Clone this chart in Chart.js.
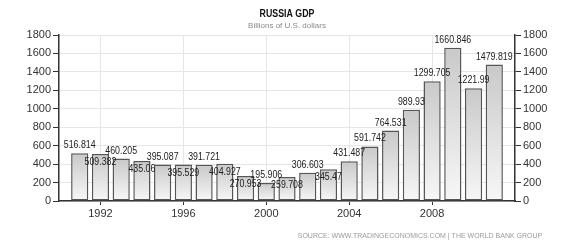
<!DOCTYPE html>
<html>
<head>
<meta charset="utf-8">
<script src="https://cdn.jsdelivr.net/npm/chart.js@4/dist/chart.umd.min.js"></script>
<style>
  html, body { margin: 0; padding: 0; background: #fff; }
  #wrap { width: 575px; height: 247px; }
</style>
</head>
<body>
<div id="wrap"><canvas id="myChart" width="575" height="247"></canvas></div>
<script>
// Russia GDP, billions of US dollars, 1990-2010
const years = [1990, 1991, 1992, 1993, 1994, 1995, 1996, 1997, 1998, 1999, 2000,
  2001, 2002, 2003, 2004, 2005, 2006, 2007, 2008, 2009, 2010];
const gdp = [516.814, 509.382, 460.205, 435.06, 395.087, 395.529, 391.721, 404.927,
  270.953, 195.906, 259.708, 306.603, 345.47, 431.487, 591.742, 764.531, 989.93,
  1299.705, 1660.846, 1221.99, 1479.819];
const yearTicks = [1992, 1996, 2000, 2004, 2008];
const valueTicks = [0, 200, 400, 600, 800, 1000, 1200, 1400, 1600, 1800];

const titleText = 'RUSSIA GDP';
const subtitleText = 'Billions of U.S. dollars';
const sourceText = 'SOURCE: WWW.TRADINGECONOMICS.COM | THE WORLD BANK GROUP';

const labelFont = '11px "Liberation Sans", Arial, sans-serif';
const axisFont = { family: '"Liberation Sans", Arial, sans-serif', size: 11 };

// each year is plotted at the end of its period
const points = years.map((yr, i) => ({ x: yr + 1, y: gdp[i] }));

function barGradient(ctx) {
  const chart = ctx.chart;
  const ys = chart.scales.y;
  if (!ys || !ctx.raw) return '#dddddd';
  const top = ys.getPixelForValue(ctx.raw.y);
  const bottom = ys.getPixelForValue(0);
  if (!isFinite(top) || !isFinite(bottom)) return '#dddddd';
  const g = chart.ctx.createLinearGradient(0, top, 0, bottom);
  g.addColorStop(0, '#c9c9c9');
  g.addColorStop(1, '#f7f7f7');
  return g;
}

// narrow text: squeeze horizontally
function narrowText(c, txt, x, y, sx) {
  c.save();
  c.translate(x, y);
  c.scale(sx, 1);
  c.fillText(txt, 0, 0);
  c.restore();
}

// titles, source line and the value labels on the bars
const textPlugin = {
  id: 'texts',
  afterDatasetsDraw(chart) {
    const c = chart.ctx;
    const meta = chart.getDatasetMeta(0);
    const sx = 0.8;
    c.save();
    c.font = labelFont;
    c.fillStyle = '#222';
    c.textAlign = 'center';
    c.textBaseline = 'middle';
    const placed = [];
    const half = 4.5;
    meta.data.forEach((bar, i) => {
      const txt = String(gdp[i]);
      const w = c.measureText(txt).width * sx;
      let y = bar.y - 8;
      const hit = placed.some(p =>
        Math.abs(p.x - bar.x) < (p.w + w) / 2 &&
        (y - half) < (p.y + half) && (y + half) > (p.y - half));
      if (hit) y = bar.y + 8;
      placed.push({ x: bar.x, y: y, w: w });
      narrowText(c, txt, bar.x, y, sx);
    });
    c.restore();
  },
  afterDraw(chart) {
    const c = chart.ctx;
    c.save();
    c.textAlign = 'center';
    c.textBaseline = 'middle';
    c.fillStyle = '#111';
    c.font = 'bold 11px "Liberation Sans", Arial, sans-serif';
    narrowText(c, titleText, 287, 14, 0.8);
    c.fillStyle = '#8a8a8a';
    c.font = '8px "Liberation Sans", Arial, sans-serif';
    c.fillText(subtitleText, 287, 26);
    c.fillStyle = '#9a9a9a';
    c.font = '7px "Liberation Sans", Arial, sans-serif';
    c.fillText(sourceText, 420, 236);
    c.restore();
  }
};

const config = {
  type: 'bar',
  data: {
    datasets: [{
      label: 'GDP',
      data: points,
      backgroundColor: barGradient,
      borderColor: '#555555',
      borderWidth: 1.5,
      borderSkipped: false,
      barPercentage: 0.83,
      categoryPercentage: 1
    }]
  },
  options: {
    responsive: false,
    animation: false,
    layout: { padding: { top: 35, left: 0, right: 0, bottom: 0 } },
    plugins: {
      legend: { display: false },
      tooltip: { enabled: false }
    },
    scales: {
      x: {
        type: 'linear',
        min: 1990,
        max: 2012,
        offset: false,
        afterBuildTicks: (axis) => { axis.ticks = yearTicks.map(v => ({ value: v })); },
        afterFit: (axis) => { axis.height = 46; },
        ticks: { color: '#333', font: axisFont, padding: 2, maxRotation: 0,
          callback: (v) => String(v) },
        grid: { color: '#e6e6e6', tickColor: '#333', tickLength: 4, lineWidth: 1, offset: false },
        border: { color: '#333', width: 1.5 }
      },
      y: {
        position: 'left',
        min: 0,
        max: 1800,
        afterBuildTicks: (axis) => { axis.ticks = valueTicks.map(v => ({ value: v })); },
        afterFit: (axis) => { axis.width = 59; },
        ticks: { color: '#333', font: axisFont, padding: 2, callback: (v) => String(v) },
        grid: { color: '#e6e6e6', tickColor: '#333', tickLength: 6 },
        border: { color: '#333', width: 1.5 }
      },
      y2: {
        position: 'right',
        min: 0,
        max: 1800,
        afterBuildTicks: (axis) => { axis.ticks = valueTicks.map(v => ({ value: v })); },
        afterFit: (axis) => { axis.width = 60; },
        ticks: { color: '#333', font: axisFont, padding: 2, callback: (v) => String(v) },
        grid: { drawOnChartArea: false, tickColor: '#333', tickLength: 6 },
        border: { color: '#333', width: 1.5 }
      }
    }
  },
  plugins: [textPlugin]
};

new Chart(document.getElementById('myChart').getContext('2d'), config);
</script>
</body>
</html>
